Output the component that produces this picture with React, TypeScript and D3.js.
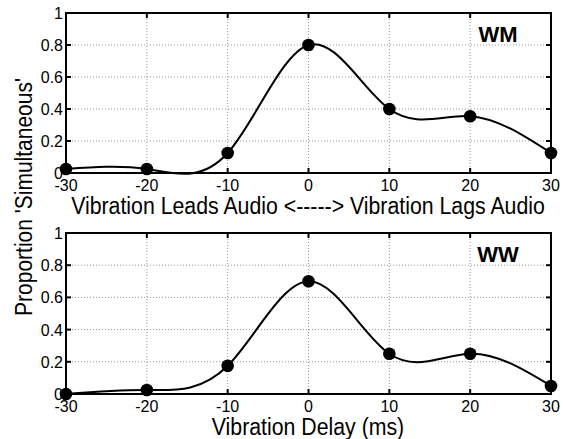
import React from "react";
import { scaleLinear, line, curveNatural } from "d3";

const delays = [-30, -20, -10, 0, 10, 20, 30];
const wmValues = [0.025, 0.025, 0.125, 0.8, 0.4, 0.355, 0.125];
const wwValues = [0.0, 0.025, 0.175, 0.7, 0.25, 0.25, 0.05];
const xTicks = [-30, -20, -10, 0, 10, 20, 30];
const yTicks = [0, 0.2, 0.4, 0.6, 0.8, 1];

const W = 563;
const H = 439;
const left = 66;
const right = 551;
const font = "Arial, 'Liberation Sans', sans-serif";

const Panel = ({ top, bottom, values, name }) => {
  const x = scaleLinear().domain([-30, 30]).range([left, right]);
  const y = scaleLinear().domain([0, 1]).range([bottom, top]);
  const path = line()
    .x((d) => x(d[0]))
    .y((d) => y(d[1]))
    .curve(curveNatural)(delays.map((d, i) => [d, values[i]]));

  return (
    <g>
      {/* grid */}
      {xTicks.slice(1, -1).map((t) => (
        <line key={"gx" + t} x1={x(t)} x2={x(t)} y1={top} y2={bottom}
          stroke="#999" strokeWidth={1} strokeDasharray="1,2" />
      ))}
      {yTicks.slice(1, -1).map((t) => (
        <line key={"gy" + t} x1={left} x2={right} y1={y(t)} y2={y(t)}
          stroke="#999" strokeWidth={1} strokeDasharray="1,2" />
      ))}
      {/* ticks inward, matlab style */}
      {xTicks.map((t) => (
        <g key={"tx" + t}>
          <line x1={x(t)} x2={x(t)} y1={bottom} y2={bottom - 5} stroke="black" strokeWidth={2} />
          <line x1={x(t)} x2={x(t)} y1={top} y2={top + 5} stroke="black" strokeWidth={2} />
          <text x={x(t)} y={bottom + 18} textAnchor="middle" fontSize={16} fontFamily={font}>
            {t}
          </text>
        </g>
      ))}
      {yTicks.map((t) => (
        <g key={"ty" + t}>
          <line x1={left} x2={left + 5} y1={y(t)} y2={y(t)} stroke="black" strokeWidth={2} />
          <line x1={right} x2={right - 5} y1={y(t)} y2={y(t)} stroke="black" strokeWidth={2} />
          <text x={left - 3} y={y(t) + 6} textAnchor="end" fontSize={16} fontFamily={font}>
            {t}
          </text>
        </g>
      ))}
      <rect x={left} y={top} width={right - left} height={bottom - top}
        fill="none" stroke="black" strokeWidth={2} />
      <path d={path} fill="none" stroke="black" strokeWidth={2} />
      {delays.map((d, i) => (
        <circle key={i} cx={x(d)} cy={y(values[i])} r={6.3} fill="black" />
      ))}
      <text x={498} y={top + 29} textAnchor="middle" fontSize={22} fontWeight="bold" fontFamily={font}>
        {name}
      </text>
    </g>
  );
};

export default function App() {
  return (
    <svg width={W} height={H} viewBox={`0 0 ${W} ${H}`}
      style={{ position: "absolute", left: 0, top: 0, background: "white" }}>
      <rect width={W} height={H} fill="white" />
      <Panel top={13} bottom={173} values={wmValues} name="WM" />
      <Panel top={233} bottom={394} values={wwValues} name="WW" />
      <text transform="translate(308,214) scale(1,1.1)" textAnchor="middle" fontSize={21.3} fontFamily={font}>
        {"Vibration Leads Audio <-----> Vibration Lags Audio"}
      </text>
      <text transform="translate(308,435) scale(1,1.1)" textAnchor="middle" fontSize={21.3} fontFamily={font}>
        Vibration Delay (ms)
      </text>
      <text transform="translate(32,197) rotate(-90) scale(1,1.1)" textAnchor="middle" fontSize={21} fontFamily={font}>
        Proportion 'Simultaneous'
      </text>
    </svg>
  );
}
